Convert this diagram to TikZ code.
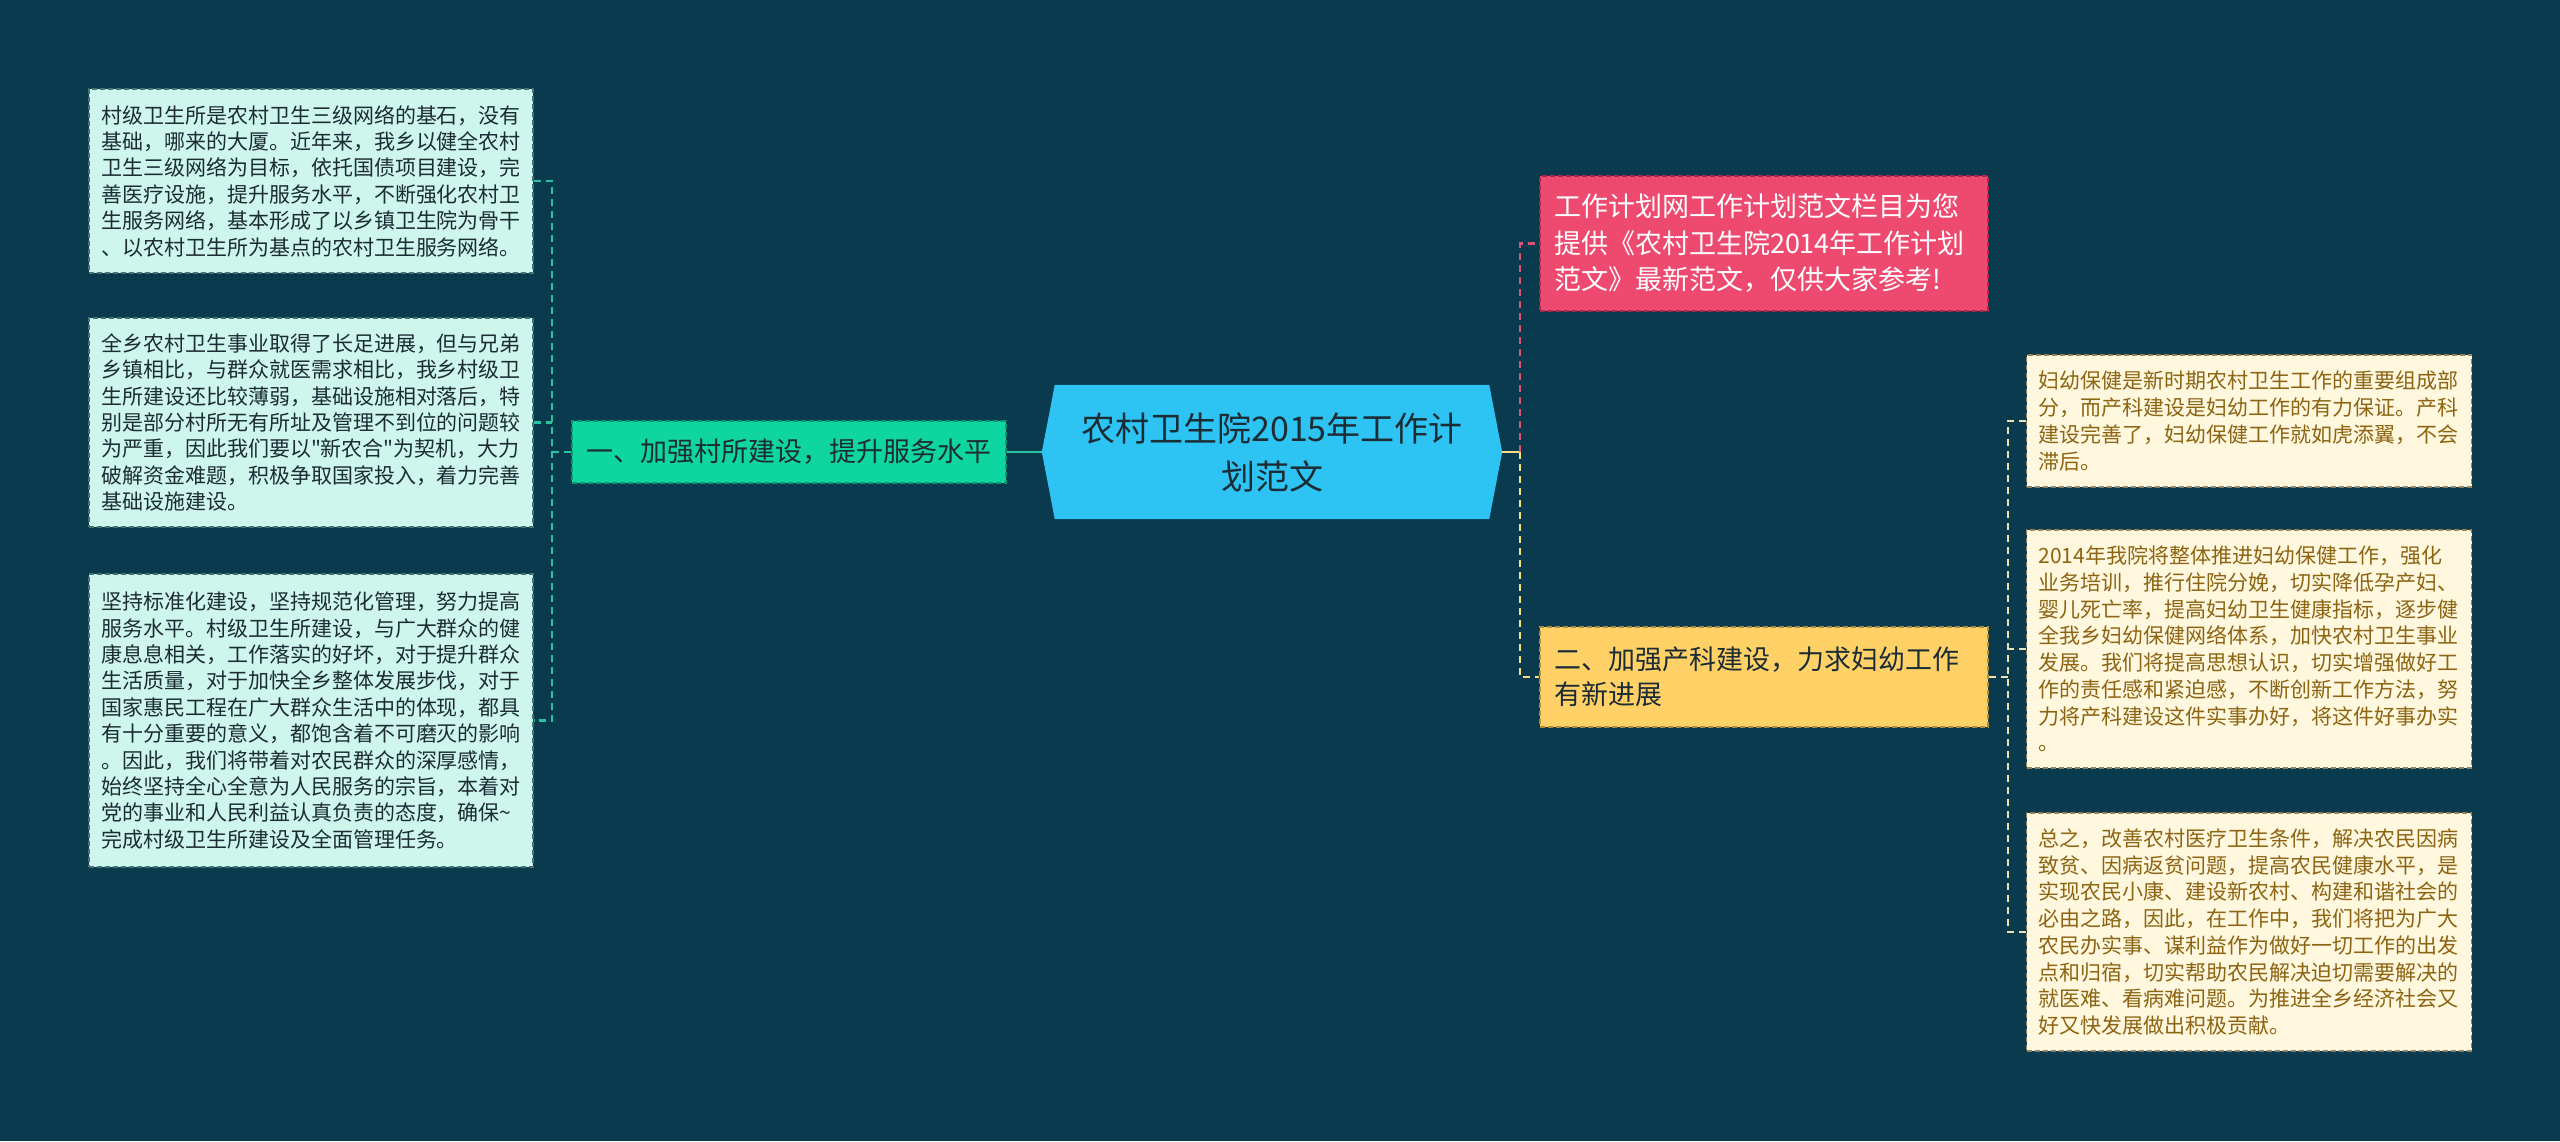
\documentclass[tikz,border=0pt]{standalone}
\usepackage{fontspec}
\setmainfont{Noto Sans CJK SC}[Ligatures=TeXOff]
\usetikzlibrary{backgrounds}

\definecolor{bgteal}{RGB}{10,58,77}
\definecolor{rootfill}{RGB}{45,196,243}
\definecolor{darktext}{RGB}{28,44,52}
\definecolor{greenfill}{RGB}{14,214,158}
\definecolor{greenedge}{RGB}{10,150,115}
\definecolor{greenline}{RGB}{40,195,160}
\definecolor{mintfill}{RGB}{206,246,236}
\definecolor{mintedge}{RGB}{70,115,118}
\definecolor{pinkfill}{RGB}{238,74,112}
\definecolor{pinkedge}{RGB}{170,40,75}
\definecolor{pinkline}{RGB}{222,82,122}
\definecolor{yellowfill}{RGB}{255,209,102}
\definecolor{yellowedge}{RGB}{175,140,60}
\definecolor{yellowline}{RGB}{246,222,135}
\definecolor{creamfill}{RGB}{255,247,222}
\definecolor{creamedge}{RGB}{150,130,90}
\definecolor{creamline}{RGB}{238,226,178}
\definecolor{browntext}{RGB}{140,100,18}

\begin{document}
\begin{tikzpicture}[
        x=1pt, y=-1pt,
        rootnode/.style={minimum width=460pt, minimum height=134pt, inner sep=0pt,
            align=center, text=darktext, font=\fontsize{34}{48}\selectfont},
        greenbox/.style={draw=greenedge, fill=greenfill, dash pattern=on 5pt off 3pt,
            line width=1.2pt, minimum width=434pt, minimum height=62pt, inner sep=0pt,
            text width=420pt, align=center, text=darktext, font=\fontsize{27}{36}\selectfont},
        tipbox/.style={draw=pinkedge, fill=pinkfill, dash pattern=on 5pt off 3pt,
            line width=1.2pt, minimum height=135pt, inner xsep=14pt, inner ysep=0pt,
            text width=420pt, align=left, text=white, font=\fontsize{27}{36.5}\selectfont},
        yellowbox/.style={draw=yellowedge, fill=yellowfill, dash pattern=on 5pt off 3pt,
            line width=1.2pt, minimum height=100pt, inner xsep=14pt, inner ysep=0pt,
            text width=420pt, align=left, text=darktext, font=\fontsize{27}{35}\selectfont},
        lleaf/.style={draw=mintedge, fill=mintfill, dash pattern=on 5pt off 3pt,
            line width=1.2pt, inner xsep=12pt, inner ysep=0pt, text width=420pt,
            align=left, text=darktext, font=\fontsize{21}{26.4}\selectfont},
        rleaf/.style={draw=creamedge, fill=creamfill, dash pattern=on 5pt off 3pt,
            line width=1.2pt, inner xsep=12pt, inner ysep=0pt, text width=421pt,
            align=left, text=browntext, font=\fontsize{21}{26.7}\selectfont},
        gline/.style={draw=greenline, line width=2.5pt, dash pattern=on 7pt off 5pt},
        pline/.style={draw=pinkline, line width=2.5pt, dash pattern=on 7pt off 5pt},
        yline/.style={draw=yellowline, line width=2.5pt, dash pattern=on 7pt off 5pt},
        cline/.style={draw=creamline, line width=2.5pt, dash pattern=on 7pt off 5pt}
    ]
    \useasboundingbox (0,0) rectangle (2560,1141);

    % Root
    \node[rootnode] (root) at (1272,452) {农村卫生院2015年工作计\\划范文};
    \begin{scope}[on background layer]
        \fill[bgteal] (0,0) rectangle (2560,1141);
        \fill[rootfill] (root.west) -- ([xshift=13pt]root.north west)
            -- ([xshift=-13pt]root.north east) -- (root.east)
            -- ([xshift=-13pt]root.south east) -- ([xshift=13pt]root.south west) -- cycle;
    \end{scope}

    % Left branch
    \node[greenbox] (b1) at (789,452) {一、加强村所建设，提升服务水平};
    \node[lleaf, minimum height=184pt] (l1) at (311,181) {村级卫生所是农村卫生三级网络的基石，没有\\基础，哪来的大厦。近年来，我乡以健全农村\\卫生三级网络为目标，依托国债项目建设，完\\善医疗设施，提升服务水平，不断强化农村卫\\生服务网络，基本形成了以乡镇卫生院为骨干\\、以农村卫生所为基点的农村卫生服务网络。};
    \node[lleaf, minimum height=209pt] (l2) at (311,422.5) {全乡农村卫生事业取得了长足进展，但与兄弟\\乡镇相比，与群众就医需求相比，我乡村级卫\\生所建设还比较薄弱，基础设施相对落后，特\\别是部分村所无有所址及管理不到位的问题较\\为严重，因此我们要以"新农合"为契机，大力\\破解资金难题，积极争取国家投入，着力完善\\基础设施建设。};
    \node[lleaf, minimum height=293pt] (l3) at (311,720.5) {坚持标准化建设，坚持规范化管理，努力提高\\服务水平。村级卫生所建设，与广大群众的健\\康息息相关，工作落实的好坏，对于提升群众\\生活质量，对于加快全乡整体发展步伐，对于\\国家惠民工程在广大群众生活中的体现，都具\\有十分重要的意义，都饱含着不可磨灭的影响\\。因此，我们将带着对农民群众的深厚感情，\\始终坚持全心全意为人民服务的宗旨，本着对\\党的事业和人民利益认真负责的态度，确保\textasciitilde\\完成村级卫生所建设及全面管理任务。};

    \coordinate (lj) at (552,452);
    \draw[gline, solid] (root.west) -- (b1.east);
    \draw[gline] (b1.west) -- (lj);
    \draw[gline] (l1.east) -| (lj) |- (l3.east);
    \draw[gline] (l2.east) -- (l2.east -| lj);

    % Right branches
    \node[tipbox] (tip) at (1764,243.5) {工作计划网工作计划范文栏目为您\\提供《农村卫生院2014年工作计划\\范文》最新范文，仅供大家参考!};
    \node[yellowbox] (b2) at (1764,677) {二、加强产科建设，力求妇幼工作\\有新进展};

    \coordinate (rj) at (1520,452);
    \draw[yline, solid] (root.east) -- (rj);
    \draw[pline] (rj) |- (tip.west);
    \draw[yline] (rj) |- (b2.west);

    \node[rleaf, minimum height=132pt] (r1) at (2249,421) {妇幼保健是新时期农村卫生工作的重要组成部\\分，而产科建设是妇幼工作的有力保证。产科\\建设完善了，妇幼保健工作就如虎添翼，不会\\滞后。};
    \node[rleaf, minimum height=238pt] (r2) at (2249,649) {2014年我院将整体推进妇幼保健工作，强化\\业务培训，推行住院分娩，切实降低孕产妇、\\婴儿死亡率，提高妇幼卫生健康指标，逐步健\\全我乡妇幼保健网络体系，加快农村卫生事业\\发展。我们将提高思想认识，切实增强做好工\\作的责任感和紧迫感，不断创新工作方法，努\\力将产科建设这件实事办好，将这件好事办实\\。};
    \node[rleaf, minimum height=238pt] (r3) at (2249,932) {总之，改善农村医疗卫生条件，解决农民因病\\致贫、因病返贫问题，提高农民健康水平，是\\实现农民小康、建设新农村、构建和谐社会的\\必由之路，因此，在工作中，我们将把为广大\\农民办实事、谋利益作为做好一切工作的出发\\点和归宿，切实帮助农民解决迫切需要解决的\\就医难、看病难问题。为推进全乡经济社会又\\好又快发展做出积极贡献。};

    \coordinate (rk) at (2008,677);
    \draw[cline] (b2.east) -- (rk);
    \draw[cline] (r1.west) -| (rk) |- (r3.west);
    \draw[cline] (r2.west) -- (r2.west -| rk);

\end{tikzpicture}
\end{document}
